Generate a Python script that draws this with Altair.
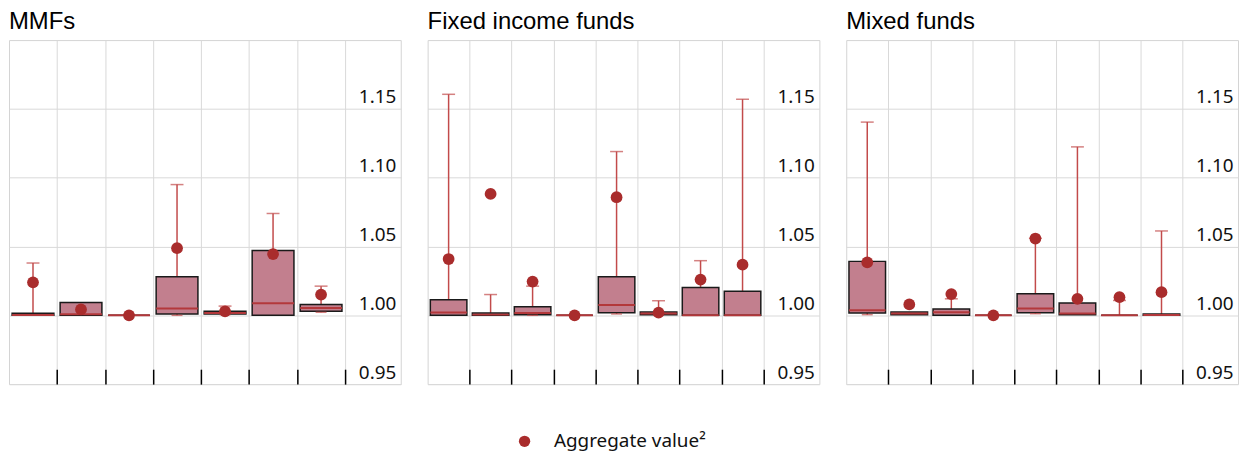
import altair as alt
import pandas as pd

# ---- data ----
panel_titles = ["MMFs", "Fixed income funds", "Mixed funds"]
label_col_units = [1.16, 1.33, 1.32]   # width of the empty label column (in category units)

mmf_q1 = [1.000, 1.000, 1.000, 1.001, 1.001, 1.000, 1.003]
mmf_q3 = [1.0015, 1.0094, 1.000, 1.028, 1.0029, 1.0471, 1.0079]
mmf_med = [1.0002, 1.0007, 1.000, 1.005, 1.0017, 1.0087, 1.0053]
mmf_min = [1.000, 1.000, 1.000, 1.000, 1.0005, 1.000, 1.0022]
mmf_max = [1.038, 1.0094, 1.000, 1.095, 1.0067, 1.074, 1.0212]
mmf_agg = [1.024, 1.0043, 1.000, 1.0488, 1.0029, 1.0445, 1.0151]

fix_q1 = [1.000, 1.000, 1.0005, 1.000, 1.0019, 1.0005, 1.000, 1.000]
fix_q3 = [1.0113, 1.0017, 1.0063, 1.000, 1.0281, 1.0024, 1.0202, 1.0175]
fix_med = [1.002, 1.0005, 1.0017, 1.000, 1.0075, 1.0014, 1.000, 1.000]
fix_min = [1.000, 1.000, 1.000, 1.000, 1.001, 1.000, 1.000, 1.000]
fix_max = [1.1606, 1.0151, 1.0212, 1.000, 1.119, 1.0106, 1.0397, 1.157]
fix_agg = [1.0409, 1.0882, 1.0245, 1.000, 1.0858, 1.0019, 1.026, 1.0368]

mix_q1 = [1.0017, 1.0005, 1.000, 1.000, 1.0019, 1.0005, 1.000, 1.000]
mix_q3 = [1.0392, 1.0024, 1.0046, 1.000, 1.0156, 1.0089, 1.000, 1.001]
mix_med = [1.0036, 1.0014, 1.0022, 1.000, 1.005, 1.0014, 1.000, 1.0002]
mix_min = [1.0005, 1.0005, 1.000, 1.000, 1.0012, 1.0005, 1.000, 1.000]
mix_max = [1.1404, 1.0024, 1.012, 1.000, 1.056, 1.1224, 1.0108, 1.0613]
mix_agg = [1.0385, 1.0079, 1.0154, 1.000, 1.0558, 1.012, 1.0132, 1.0168]

y_ticks = [0.95, 1.00, 1.05, 1.10, 1.15]
y_domain = [0.95, 1.20]
legend_label = "Aggregate value²"

# ---- styling ----
BOX_FILL = "#c27f8e"
BOX_STROKE = "#1a1a1a"
WHISKER = "#c24b4b"
MEDIAN = "#b3383b"
DOT = "#a92c2c"
GRID = "#d9d9d9"
HALF = 0.435


def panel(title, q1, q3, med, lo, hi, agg, extra):
    n = len(q1)
    idx = list(range(n))
    df = pd.DataFrame({
        "cat": [str(i + 1) for i in idx],
        "pos": [i + 0.5 for i in idx],
        "left": [i + 0.5 - HALF for i in idx],
        "right": [i + 0.5 + HALF for i in idx],
        "q1": q1, "q3": q3, "med": med, "lo": lo, "hi": hi, "agg": agg,
        "series": [legend_label] * n,
    })
    xs = alt.Scale(domain=[0, n + extra], nice=False, zero=False)
    ys = alt.Scale(domain=y_domain, nice=False, zero=False)
    xaxis = alt.Axis(values=list(range(1, n + 1)), grid=True, gridColor=GRID,
                     gridWidth=1, labels=False, ticks=True, tickSize=15,
                     tickColor="black", tickWidth=1.5, offset=-15,
                     domain=False, title=None)
    yaxis = alt.Axis(orient="right", values=y_ticks, format=".2f", grid=True,
                     gridColor=GRID, gridWidth=1, ticks=False, tickSize=0,
                     domain=False, labelAlign="right", labelPadding=-5,
                     labelBaseline="alphabetic", labelOffset=-6,
                     labelFontSize=19, labelFont="Noto Sans",
                     labelColor="#111111", labelBound=False, title=None)
    base = alt.Chart(df)
    whisk = base.mark_rule(color=WHISKER, strokeWidth=1.5).encode(
        x=alt.X("pos:Q", scale=xs, axis=xaxis),
        y=alt.Y("lo:Q", scale=ys, axis=yaxis),
        y2="hi:Q")
    box = base.mark_bar(fill=BOX_FILL, stroke=BOX_STROKE, strokeWidth=1.5,
                        opacity=1).encode(
        x=alt.X("left:Q", scale=xs, axis=xaxis), x2="right:Q",
        y=alt.Y("q1:Q", scale=ys, axis=yaxis), y2="q3:Q")
    median = base.mark_rule(color=MEDIAN, strokeWidth=2).encode(
        x=alt.X("left:Q", scale=xs, axis=xaxis), x2="right:Q",
        y=alt.Y("med:Q", scale=ys, axis=yaxis))
    cap_top = base.transform_filter("datum.hi > datum.q3 + 0.0005").mark_tick(
        orient="horizontal", size=13, thickness=1.5, color=WHISKER).encode(
        x=alt.X("pos:Q", scale=xs, axis=xaxis),
        y=alt.Y("hi:Q", scale=ys, axis=yaxis))
    cap_bot = base.transform_filter("datum.lo < datum.q1 - 0.0003").mark_tick(
        orient="horizontal", size=11, thickness=1.5, color=WHISKER).encode(
        x=alt.X("pos:Q", scale=xs, axis=xaxis),
        y=alt.Y("lo:Q", scale=ys, axis=yaxis))
    dots = base.mark_circle(size=140, opacity=1).encode(
        x=alt.X("pos:Q", scale=xs, axis=xaxis),
        y=alt.Y("agg:Q", scale=ys, axis=yaxis),
        color=alt.Color("series:N",
                        scale=alt.Scale(domain=[legend_label], range=[DOT]),
                        legend=alt.Legend(title=None, orient="none",
                                          legendX=509, legendY=394,
                                          symbolType="circle", symbolSize=130,
                                          symbolStrokeWidth=0,
                                          labelFont="Noto Sans",
                                          labelFontSize=19, labelColor="#111111",
                                          labelOffset=20, labelLimit=400,
                                          padding=0)))
    return alt.layer(whisk, box, median, cap_top, cap_bot, dots).properties(
        width=394, height=346,
        title=alt.Title(title, anchor="start", font="Liberation Sans",
                        fontSize=24, fontWeight="normal", color="#000000",
                        offset=6))


p1 = panel(panel_titles[0], mmf_q1, mmf_q3, mmf_med, mmf_min, mmf_max, mmf_agg, label_col_units[0])
p2 = panel(panel_titles[1], fix_q1, fix_q3, fix_med, fix_min, fix_max, fix_agg, label_col_units[1])
p3 = panel(panel_titles[2], mix_q1, mix_q3, mix_med, mix_min, mix_max, mix_agg, label_col_units[2])

chart = alt.hconcat(p1, p2, p3, spacing=25).resolve_scale(
    x="independent", color="shared").properties(padding=0).configure_view(
    stroke="#d4d4d4", strokeWidth=1)

chart.save("out.html", embed_options={"renderer": "svg", "actions": False})
